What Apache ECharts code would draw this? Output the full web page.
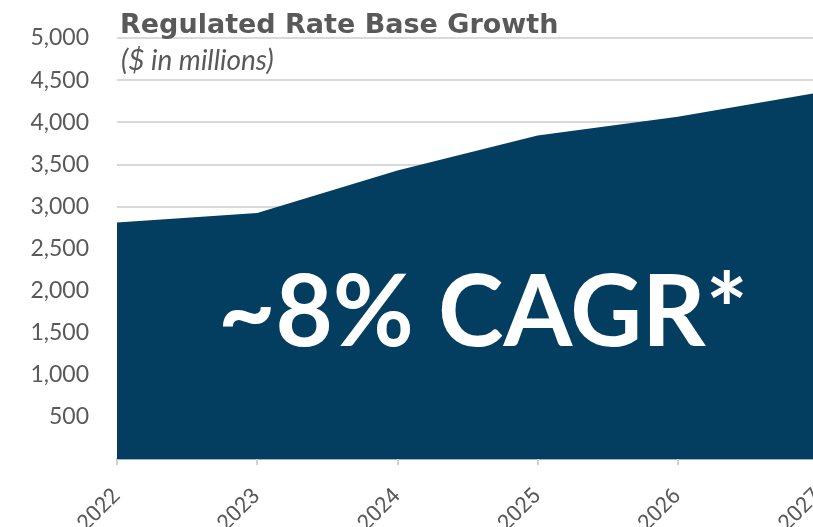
<!DOCTYPE html>
<html><head><meta charset="utf-8">
<script src="https://cdn.jsdelivr.net/npm/echarts@6/dist/echarts.min.js"></script>
<style>html,body{margin:0;padding:0;background:#fff}#c{width:813px;height:527px}</style>
</head><body><div id="c"></div>
<script>
const years = ['2022','2023','2024','2025','2026','2027'];
const rateBase = [2810, 2922, 3425, 3842, 4066, 4352];
const yTicks = [500,1000,1500,2000,2500,3000,3500,4000,4500,5000];
const titleText = 'Regulated Rate Base Growth';
const subText = '($ in millions)';
const cagrText = '~8% CAGR*';

const chart = echarts.init(document.getElementById('c'));
chart.setOption({
  animation:false,
  title:[
    {text:titleText,left:115,top:7,textStyle:{fontFamily:'DejaVu Sans',fontWeight:'bold',fontSize:27,color:'#595959'}},
    {text:subText,left:116,top:42,textStyle:{fontFamily:'Lato',fontStyle:'italic',fontWeight:'normal',fontSize:28,color:'#595959'}}
  ],
  grid:{left:117,width:701,top:38,bottom:68,containLabel:false,outerBoundsMode:'none'},
  xAxis:{type:'category',data:years,boundaryGap:false,
    axisLine:{lineStyle:{color:'#9fb3c6',width:2}},
    axisTick:{show:true,alignWithLabel:true,length:6,lineStyle:{color:'#d0d0d0',width:2}},
    axisLabel:{rotate:45,margin:34,fontFamily:'Roboto',fontSize:22,color:'#595959'}},
  yAxis:{type:'value',min:0,max:5000,interval:500,
    axisLine:{show:false},axisTick:{show:false},
    splitLine:{lineStyle:{color:'#d9d9d9',width:2}},
    axisLabel:{margin:28,fontFamily:'Lato',fontSize:23,color:'#595959',
      formatter:v=>yTicks.includes(v)?v.toLocaleString('en-US'):''}},
  series:[{type:'line',data:rateBase,symbol:'none',lineStyle:{width:0},
    areaStyle:{color:'#033d60',opacity:1},z:2}],
  graphic:[{type:'text',left:218,top:265,z:10,
    style:{text:cagrText,fill:'#ffffff',font:'bold 99px Lato'}}]
});
</script></body></html>
